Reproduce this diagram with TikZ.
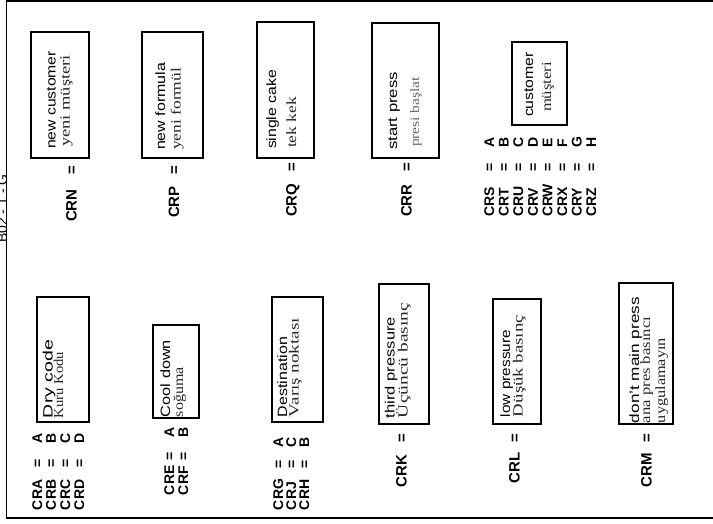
\documentclass[tikz,border=0pt]{standalone}
\usepackage{fontspec}
\setmainfont{Liberation Serif}
\setsansfont{Liberation Sans}
\usepackage{graphicx}
\newcommand\fitw[3]{\resizebox{#1pt}{\height}{\fontsize{#2}{#2}\selectfont #3}}
\newcommand\boxat[5]{\node[bx,minimum width={#4-#2},minimum height={#5-#3}] (#1) at ({(#2+#4)/2},{(#3+#5)/2}) {};}
\begin{document}
\begin{tikzpicture}[x=1pt,y=-1pt,
  every node/.style={inner sep=0pt,outer sep=0pt},
  rot/.style={rotate=90,anchor=base west},
  cr/.style={rot,font=\sffamily\bfseries\fontsize{14}{14}\selectfont},
  crbig/.style={rot,font=\sffamily\bfseries\fontsize{15}{15}\selectfont},
  en/.style={rot,font=\sffamily},
  tr/.style={rot,font=\rmfamily,text=black!85},
  bx/.style={draw,line width=1.1pt}]
\useasboundingbox (0,0) rectangle (713,524);
% frame
\coordinate (f1) at (713,0.8);
\coordinate (f2) at (6.5,0.8);
\coordinate (f3) at (6.5,518);
\coordinate (f4) at (713,518);
\draw[line width=1.5pt] (f1) -- (f2) -- (f3) -- (f4);
\node[rot,font=\sffamily\fontsize{14}{14}\selectfont] (side) at (7,243) {B02 - 1 - G};
% boxes
\boxat{bN}{31}{32}{89}{158}
\boxat{bP}{142}{32}{203}{158}
\boxat{bQ}{257}{22}{314}{158}
\boxat{bR}{372}{23}{439}{158}
\boxat{bS}{512}{42}{567}{125}
\boxat{bA}{37}{297}{89}{422}
\boxat{bE}{153}{325}{199}{418}
\boxat{bG}{272}{297}{323}{422}
\boxat{bK}{379}{284}{429}{424}
\boxat{bL}{493}{299}{541}{424}
\boxat{bM}{619}{283}{673}{424}
% box texts
\node[en] (tN1) at (55.5,149) {\fitw{98}{13.5}{new customer}};
\node[tr] (tN2) at (69.5,147) {\fitw{92}{14}{yeni müşteri}};
\node[en] (tP1) at (165,150) {\fitw{87}{13.5}{new formula}};
\node[tr] (tP2) at (180.5,150) {\fitw{82}{14}{yeni formül}};
\node[en] (tQ1) at (276,149) {\fitw{79}{13.5}{single cake}};
\node[tr] (tQ2) at (296,148) {\fitw{51}{14}{tek kek}};
\node[en] (tR1) at (397,150) {\fitw{78}{13.5}{start press}};
\node[tr,text=black!60] (tR2) at (419,147) {\fitw{70}{13}{presi başlat}};
\node[en] (tS1) at (533,117) {\fitw{65}{13.5}{customer}};
\node[tr] (tS2) at (551,112) {\fitw{50}{14}{müşteri}};
\node[en] (tA1) at (52.5,418) {\fitw{78}{13.5}{Dry code}};
\node[tr] (tA2) at (63,418) {\fitw{66}{13.5}{Kuru Kodu}};
\node[en] (tE1) at (170,417) {\fitw{77}{13.5}{Cool down}};
\node[tr] (tE2) at (183,417) {\fitw{50}{14}{soğuma}};
\node[en] (tG1) at (287,417) {\fitw{80}{13.5}{Destination}};
\node[tr] (tG2) at (298.5,417) {\fitw{99}{14}{Varış noktası}};
\node[en] (tK1) at (394.5,418) {\fitw{101}{13.5}{third pressure}};
\node[tr] (tK2) at (407.5,418) {\fitw{115}{14}{Üçüncü basınç}};
\node[en] (tL1) at (510,417) {\fitw{87}{13.5}{low pressure}};
\node[tr] (tL2) at (522.5,417) {\fitw{102}{14}{Düşük basınç}};
\node[en] (tM1) at (639,423) {\fitw{126}{13.5}{don't main press}};
\node[tr] (tM2) at (650,423) {\fitw{106}{14}{ana pres basıncı}};
\node[tr] (tM3) at (665,423) {\fitw{85}{14}{uygulamayın}};
% single labels
\foreach \n/\c/\s/\e in {N/71/222/175, P/173.5/218/175, Q/291/217/172, R/406/217/172,
                         K/401/487/442, L/514/483/442, M/646/487/442}{
  \node[crbig] (l\n) at (\c+5.5,\s) {CR\n};
  \node[crbig] (e\n) at (\c+5.5,\e) {=};
}
% list top right
\foreach \n/\v [count=\i from 0] in {S/A,T/B,U/C,V/D,W/E,X/F,Y/G,Z/H}{
  \node[cr] (l\n) at (489+14.6*\i+5,217) {CR\n};
  \node[cr] (e\n) at (489+14.6*\i+5,172) {=};
  \node[cr] (v\n) at (489+14.6*\i+5,148) {\v};
}
% list CRA..CRD
\foreach \n/\v [count=\i from 0] in {A/A,B/B,C/C,D/D}{
  \node[cr] (l\n) at (37+14*\i+5,510) {CR\n};
  \node[cr] (e\n) at (37+14*\i+5,467) {=};
  \node[cr] (v\n) at (37+14*\i+5,443) {\v};
}
% list CRE, CRF
\foreach \n/\v [count=\i from 0] in {E/A,F/B}{
  \node[cr] (l\n) at (169+14*\i+5,495) {CR\n};
  \node[cr] (e\n) at (169+14*\i+5,460) {=};
  \node[cr] (v\n) at (169+14*\i+5,437) {\v};
}
% list CRG, CRJ, CRH
\foreach \n/\v [count=\i from 0] in {G/A,J/C,H/B}{
  \node[cr] (l\n) at (278+13*\i+5,510) {CR\n};
  \node[cr] (e\n) at (278+13*\i+5,468) {=};
  \node[cr] (v\n) at (278+13*\i+5,447) {\v};
}
\end{tikzpicture}
\end{document}
